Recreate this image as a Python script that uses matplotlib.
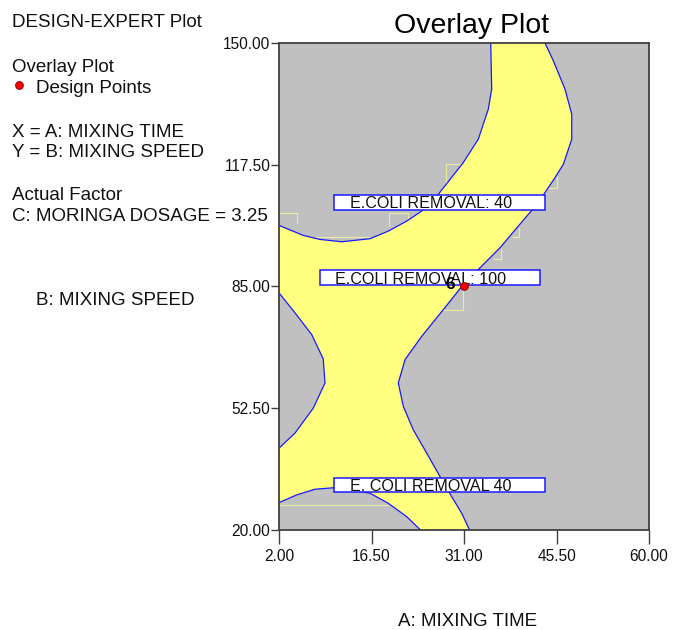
import matplotlib
matplotlib.use("Agg")
import matplotlib.pyplot as plt
from matplotlib.patches import Rectangle
from matplotlib.lines import Line2D

plt.rcParams['font.family'] = ['Liberation Sans', 'DejaVu Sans']

# ---------------- data ----------------
x_ticks = [2.0, 16.5, 31.0, 45.5, 60.0]
y_ticks = [20.0, 52.5, 85.0, 117.5, 150.0]
x_tick_labels = ["2.00", "16.50", "31.00", "45.50", "60.00"]
y_tick_labels = ["20.00", "52.50", "85.00", "117.50", "150.00"]

# E.COLI REMOVAL: 40 contour (upper arc)
curve_a_x = [35.19, 35.34, 34.81, 33.24, 30.89, 26.97, 24.37, 22.02, 19.13, 16.27, 11.83, 8.43, 5.81, 2.0]
curve_a_y = [150.0, 137.67, 132.32, 124.29, 118.05, 109.56, 105.09, 102.41, 99.73, 97.70, 96.89, 97.51, 98.58, 101.26]

# E.COLI REMOVAL: 100 contour (right boundary)
curve_b_x = [43.70, 45.0, 46.83, 47.89, 47.89, 46.57, 45.27, 43.43, 41.61, 39.51, 36.65, 34.81,
             30.89, 27.76, 24.37, 21.75, 20.70, 21.49, 23.05, 25.15, 27.24, 29.07, 30.64, 31.83]
curve_b_y = [150.0, 145.25, 137.67, 130.98, 124.29, 117.59, 114.03, 109.37, 105.27, 101.07, 95.29, 92.16,
             85.46, 78.76, 71.62, 65.38, 59.14, 52.88, 46.64, 40.40, 34.14, 28.78, 24.34, 20.0]

# left lobe
curve_c_x = [2.0, 4.51, 7.13, 8.94, 9.21, 7.38, 4.51, 2.0]
curve_c_y = [83.24, 77.89, 72.08, 65.57, 59.14, 52.45, 45.76, 41.74]

# E. COLI REMOVAL 40 contour (bottom)
curve_d_x = [2.0, 4.77, 7.64, 10.78, 16.27, 19.13, 22.02, 24.10]
curve_d_y = [27.18, 29.24, 30.76, 31.19, 29.69, 27.01, 23.43, 20.0]

# faint mesh traces
mesh_traces = [
    ([28.13, 28.13, 30.89], [111.78, 117.78, 117.78]),
    ([44.22, 45.53, 45.53], [111.35, 111.35, 114.38]),
    ([38.48, 39.67, 39.67], [98.23, 98.23, 100.64]),
    ([35.59, 36.75, 36.75], [92.15, 92.15, 94.83]),
    ([30.89, 30.89, 26.72], [85.01, 78.77, 78.77]),
    ([2.0, 4.77, 4.77], [104.66, 104.66, 101.98]),
    ([7.64, 16.27], [98.13, 98.13]),
    ([19.29, 19.29, 22.27, 22.27], [101.07, 104.66, 104.66, 102.87]),
    ([2.0, 19.13], [26.56, 26.56]),
]

design_x = [31.0]
design_y = [85.0]
design_label = "6"

contour_labels = ["E.COLI REMOVAL: 40", "E.COLI REMOVAL: 100", "E. COLI REMOVAL 40"]

# ---------------- figure ----------------
W, H = 675, 630
fig = plt.figure(figsize=(W / 100, H / 100), dpi=100)
fig.patch.set_facecolor('white')

def fx(px):
    return px / W

def fy(py):
    return 1 - py / H

ax = fig.add_axes([fx(279), fy(529.5), (649 - 279) / W, (529.5 - 43) / H])
ax.set_xlim(2, 60)
ax.set_ylim(20, 150)

YELLOW = '#ffff80'
GRAY = '#c0c0c0'
BLUE = '#1a1aff'
ax.set_facecolor(YELLOW)

# gray regions
ax.fill(curve_a_x + [2.0], curve_a_y + [150.0], color=GRAY, lw=0, zorder=1)
ax.fill(curve_b_x + [60.0, 60.0], curve_b_y + [20.0, 150.0], color=GRAY, lw=0, zorder=1)
ax.fill(curve_c_x, curve_c_y, color=GRAY, lw=0, zorder=1)
ax.fill(curve_d_x + [2.0], curve_d_y + [20.0], color=GRAY, lw=0, zorder=1)

for mx, my in mesh_traces:
    ax.plot(mx, my, color='#ecec9e', lw=0.8, zorder=2, solid_capstyle='butt')

for cx, cy in [(curve_a_x, curve_a_y), (curve_b_x, curve_b_y), (curve_c_x, curve_c_y), (curve_d_x, curve_d_y)]:
    ax.plot(cx, cy, color=BLUE, lw=0.9, zorder=3)

# contour label boxes
boxes = [
    (10.67, 105.35, 43.75 - 10.67, 109.37 - 105.35, 13.13, 105.81),
    (8.43, 85.46, 42.92 - 8.43, 89.29 - 85.46, 10.78, 85.73),
    (10.67, 29.96, 43.75 - 10.67, 33.87 - 29.96, 13.13, 30.31),
]
for (bx, by, bw, bh, tx, ty), lab in zip(boxes, contour_labels):
    ax.add_patch(Rectangle((bx, by), bw, bh, facecolor='white', edgecolor=BLUE, lw=1.1, zorder=4))
    ax.text(tx, ty, lab, fontsize=11.6, color='#111111', ha='left', va='baseline', zorder=5)

# design point
ax.plot(design_x, design_y, 'o', ms=5.5, mfc='#ff0000', mec='#a00000', mew=0.8, zorder=7)
ax.annotate(design_label, (design_x[0], design_y[0]), xytext=(-10, 1.5), textcoords='offset points',
            ha='center', va='center', fontsize=12.5, fontweight='bold', color='black', zorder=7)

# axes styling
for s in ax.spines.values():
    s.set_color('#404040')
    s.set_linewidth(1.3)
    s.set_zorder(8)
ax.set_xticks(x_ticks)
ax.set_xticklabels(x_tick_labels)
ax.set_yticks(y_ticks)
ax.set_yticklabels(y_tick_labels)
ax.tick_params(axis='x', length=10, width=1.0, color='#404040', pad=4.3, labelsize=11.2, labelcolor='#111111')
ax.tick_params(axis='y', length=5.8, width=1.0, color='#404040', pad=0.5, labelsize=11.2, labelcolor='#111111')

# titles
fig.text(fx(472), fy(33.3), "Overlay Plot", ha='center', va='baseline', fontsize=20.5, color='black')
fig.text(fx(467.5), fy(626.5), "A: MIXING TIME", ha='center', va='baseline', fontsize=13.5, color='#111111')
fig.text(fx(36), fy(305), "B: MIXING SPEED", ha='left', va='baseline', fontsize=13.5, color='#111111')

# side info
side = [
    (11.7, 27.3, "DESIGN-EXPERT Plot"),
    (11.7, 71.7, "Overlay Plot"),
    (36, 92.7, "Design Points"),
    (11.7, 136.7, "X = A: MIXING TIME"),
    (11.7, 157.3, "Y = B: MIXING SPEED"),
    (11.7, 200, "Actual Factor"),
    (11.7, 220.7, "C: MORINGA DOSAGE = 3.25"),
]
for px, py, t in side:
    fig.text(fx(px), fy(py), t, ha='left', va='baseline', fontsize=13.5, color='#111111')

fig.add_artist(Line2D([fx(19)], [fy(85)], marker='o', ms=5.5, mfc='#ff0000', mec='#a00000', mew=0.8,
                      transform=fig.transFigure))

fig.savefig("out.png", dpi=100)
